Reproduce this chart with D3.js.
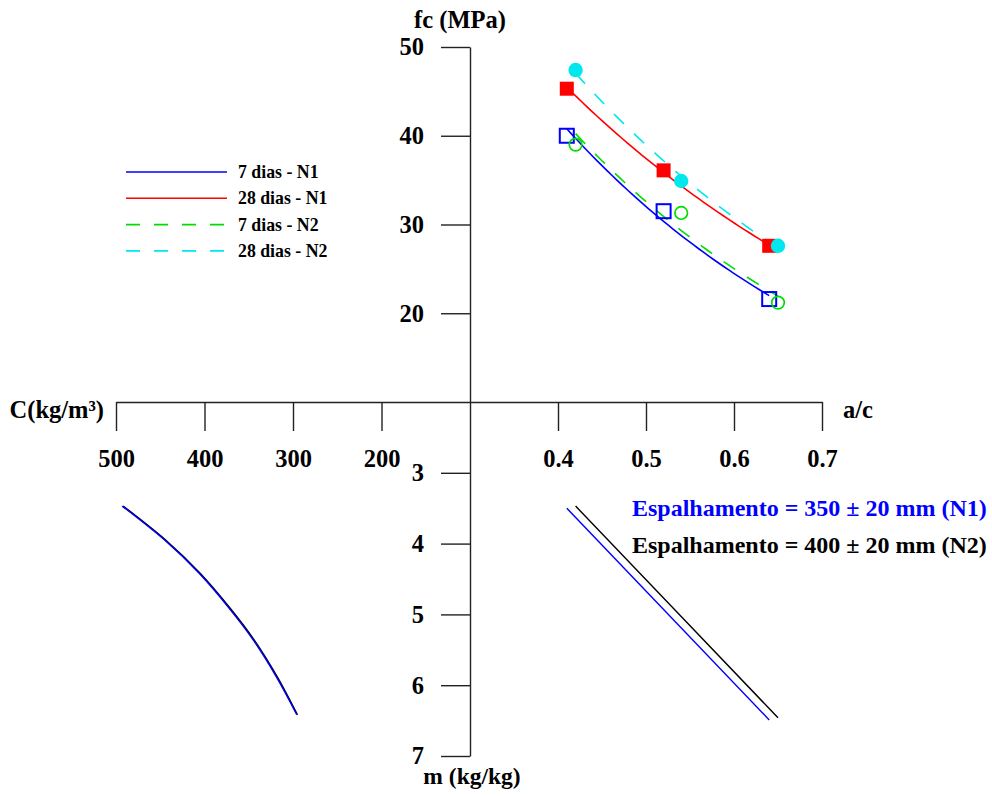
<!DOCTYPE html>
<html>
<head>
<meta charset="utf-8">
<script src="https://cdn.jsdelivr.net/npm/d3@7/dist/d3.min.js"></script>
<style>
  html, body { margin: 0; padding: 0; background: #fff; }
  svg { display: block; }
  text { font-family: "Liberation Serif", "Times New Roman", serif; font-weight: bold; }
</style>
</head>
<body>
<svg id="chart" width="992" height="796"></svg>
<script>
// Quadrant I: compressive strength fc (MPa) vs water/cement ratio a/c
const acN1 = [0.41, 0.52, 0.64];
const acN2 = [0.42, 0.54, 0.65];
const fc7N1 = [40.0, 31.5, 21.6];
const fc28N1 = [45.3, 36.1, 27.6];
const fc7N2 = [39.0, 31.3, 21.2];
const fc28N2 = [47.4, 34.9, 27.6];

// Quadrant IV: a/c vs m (kg/kg)
const mN1 = [3.50, 4.93, 6.49];
const mN2 = [3.47, 5.03, 6.46];

// Quadrant III: m vs cement consumption C (kg/m3)
const mCurveN1 = [3.47, 3.95, 4.42, 4.90, 5.36, 5.90, 6.41];
const cCurveN1 = [493, 445, 406, 373, 345, 318, 296];
const mCurveN2 = [3.47, 3.95, 4.42, 4.90, 5.36, 5.90, 6.42];
const cCurveN2 = [492, 444, 405, 372, 344, 317, 295];

// Tick values
const fcTicks = [20, 30, 40, 50];
const acTicks = [0.4, 0.5, 0.6, 0.7];
const cTicks = [500, 400, 300, 200];
const mTicks = [3, 4, 5, 6, 7];

const legendLabels = ["7 dias - N1", "28 dias - N1", "7 dias - N2", "28 dias - N2"];

const svg = d3.select("#chart");
svg.append("rect").attr("width", 992).attr("height", 796).attr("fill", "#fff");

// Scales sharing the origin at the axes crossing
const x0 = 470, y0 = 402;
const xAc = d3.scaleLinear().domain([0.3, 0.7]).range([x0, 822]);
const yFc = d3.scaleLinear().domain([10, 50]).range([y0, 47]);
const xC = d3.scaleLinear().domain([100, 500]).range([x0, 116]);
const yM = d3.scaleLinear().domain([2, 7]).range([y0, 756]);

const axisColor = "#222";
const bigFont = 24.5;
function styleAxis(g) {
  g.selectAll("path.domain").attr("stroke", axisColor).attr("stroke-width", 1.4);
  g.selectAll(".tick line").attr("stroke", axisColor).attr("stroke-width", 1.4);
  g.selectAll(".tick text")
    .attr("font-family", '"Liberation Serif", "Times New Roman", serif')
    .attr("font-weight", "bold").attr("font-size", bigFont).attr("fill", "#000");
}

svg.append("g").attr("transform", `translate(${x0},0)`)
  .call(d3.axisLeft(yFc).tickValues(fcTicks).tickSize(29).tickSizeOuter(0).tickPadding(17).tickFormat(d3.format("d")))
  .call(styleAxis);
svg.append("g").attr("transform", `translate(${x0},0)`)
  .call(d3.axisLeft(yM).tickValues(mTicks).tickSize(29).tickSizeOuter(0).tickPadding(17).tickFormat(d3.format("d")))
  .call(styleAxis);
svg.append("g").attr("transform", `translate(0,${y0})`)
  .call(d3.axisBottom(xC).tickValues(cTicks).tickSize(29).tickSizeOuter(0).tickPadding(19).tickFormat(d3.format("d")))
  .call(styleAxis);
svg.append("g").attr("transform", `translate(0,${y0})`)
  .call(d3.axisBottom(xAc).tickValues(acTicks).tickSize(29).tickSizeOuter(0).tickPadding(19).tickFormat(d3.format(".1f")))
  .call(styleAxis);

// Axis titles
svg.append("text").attr("x", 460).attr("y", 28).attr("text-anchor", "middle").attr("font-size", bigFont).text("fc (MPa)");
svg.append("text").attr("x", 843).attr("y", 418).attr("font-size", bigFont).text("a/c");
svg.append("text").attr("x", 104).attr("y", 418).attr("text-anchor", "end").attr("font-size", bigFont).text("C(kg/m³)");
svg.append("text").attr("x", 472).attr("y", 784).attr("text-anchor", "middle").attr("font-size", 23.5).text("m (kg/kg)");

// Abrams-type trend: least-squares fit of ln(fc) on a/c
function expFit(xs, ys) {
  const ly = ys.map(Math.log);
  const mx = d3.mean(xs), my = d3.mean(ly);
  const sxy = d3.sum(xs, (x, i) => (x - mx) * (ly[i] - my));
  const sxx = d3.sum(xs, x => (x - mx) * (x - mx));
  const b = sxy / sxx, a = my - b * mx;
  return x => Math.exp(a + b * x);
}

const series = [
  { ac: acN1, fc: fc7N1, color: "#0000ff", dash: null, marker: "square", filled: false },
  { ac: acN1, fc: fc28N1, color: "#ff0000", dash: null, marker: "square", filled: true },
  { ac: acN2, fc: fc7N2, color: "#00dd00", dash: "14,14", marker: "circle", filled: false },
  { ac: acN2, fc: fc28N2, color: "#00e8ee", dash: "14,14", marker: "circle", filled: true }
];

const lineAcFc = d3.line().x(d => xAc(d[0])).y(d => yFc(d[1]));
series.forEach(s => {
  const f = expFit(s.ac, s.fc);
  const lo = d3.min(s.ac), hi = d3.max(s.ac);
  const pts = d3.range(0, 41).map(i => {
    const x = lo + (hi - lo) * i / 40;
    return [x, f(x)];
  });
  svg.append("path").datum(pts).attr("d", lineAcFc)
    .attr("fill", "none").attr("stroke", s.color).attr("stroke-width", 1.6)
    .attr("stroke-dasharray", s.dash);
});

series.forEach(s => {
  const pts = s.ac.map((a, i) => [a, s.fc[i]]);
  const g = svg.append("g");
  if (s.marker === "square") {
    g.selectAll("rect").data(pts).join("rect")
      .attr("x", d => xAc(d[0]) - 7).attr("y", d => yFc(d[1]) - 7)
      .attr("width", 14).attr("height", 14)
      .attr("fill", s.filled ? s.color : "none")
      .attr("stroke", s.color).attr("stroke-width", s.filled ? 0 : 2);
  } else {
    g.selectAll("circle").data(pts).join("circle")
      .attr("cx", d => xAc(d[0])).attr("cy", d => yFc(d[1]))
      .attr("r", s.filled ? 7.2 : 6.3)
      .attr("fill", s.filled ? s.color : "none")
      .attr("stroke", s.color).attr("stroke-width", s.filled ? 0 : 1.7);
  }
});

// Legend
const legend = svg.append("g");
series.forEach((s, i) => {
  const y = 172 + i * 26.3;
  legend.append("line").attr("x1", 126).attr("x2", 227).attr("y1", y).attr("y2", y)
    .attr("stroke", s.color).attr("stroke-width", 1.6).attr("stroke-dasharray", s.dash);
  legend.append("text").attr("x", 238).attr("y", y + 6).attr("font-size", 17.8).text(legendLabels[i]);
});

// Quadrant IV: a/c vs m
const lineAcM = d3.line().x(d => xAc(d[0])).y(d => yM(d[1]));
svg.append("path").datum(acN1.map((a, i) => [a, mN1[i]])).attr("d", lineAcM)
  .attr("fill", "none").attr("stroke", "#0000ff").attr("stroke-width", 1.4);
svg.append("path").datum(acN2.map((a, i) => [a, mN2[i]])).attr("d", lineAcM)
  .attr("fill", "none").attr("stroke", "#000").attr("stroke-width", 1.4);

// Quadrant III: C vs m
const lineCM = d3.line().x(d => xC(d[0])).y(d => yM(d[1])).curve(d3.curveCatmullRom);
svg.append("path").datum(cCurveN2.map((c, i) => [c, mCurveN2[i]])).attr("d", lineCM)
  .attr("fill", "none").attr("stroke", "#000").attr("stroke-width", 1.6);
svg.append("path").datum(cCurveN1.map((c, i) => [c, mCurveN1[i]])).attr("d", lineCM)
  .attr("fill", "none").attr("stroke", "#0000ff").attr("stroke-width", 1.4);

// Workability annotations
svg.append("text").attr("x", 632).attr("y", 516).attr("font-size", 24).attr("fill", "#0000ff")
  .text("Espalhamento = 350 ± 20 mm (N1)");
svg.append("text").attr("x", 632).attr("y", 553).attr("font-size", 24).attr("fill", "#000")
  .text("Espalhamento = 400 ± 20 mm (N2)");
</script>
</body>
</html>
